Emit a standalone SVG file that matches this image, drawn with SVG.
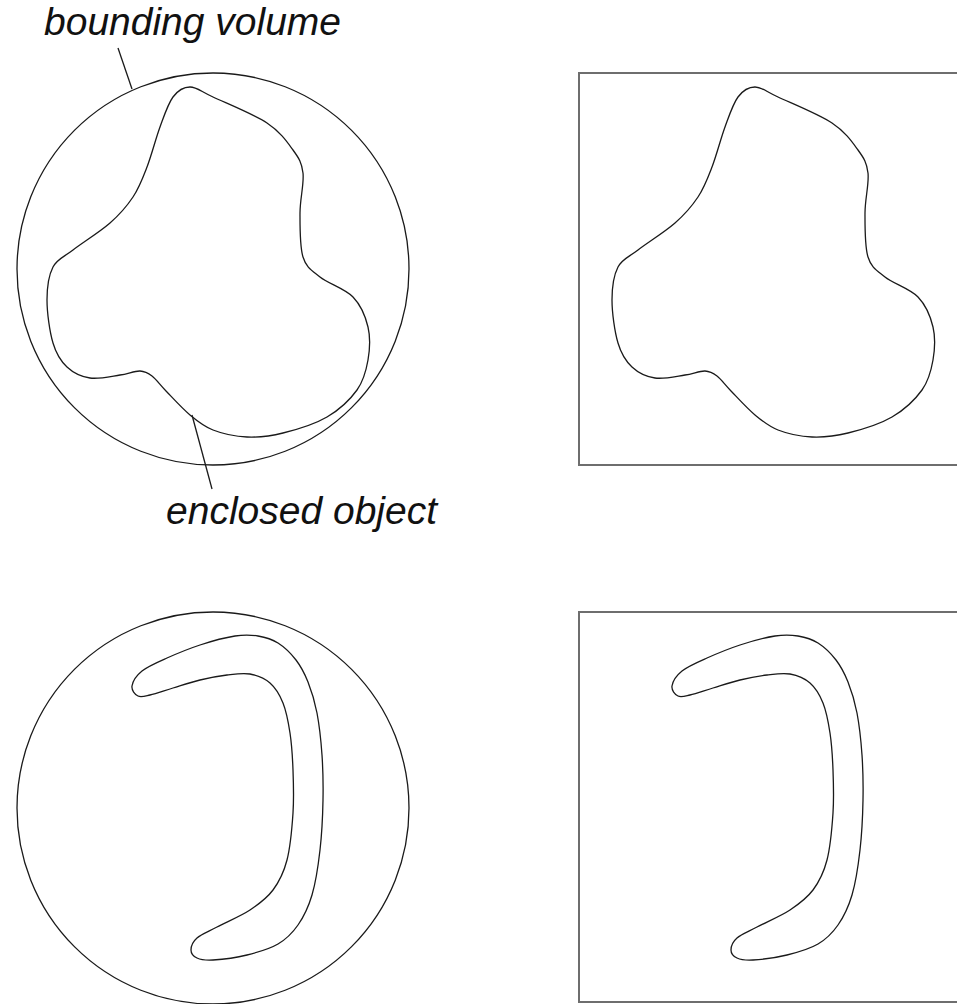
<svg xmlns="http://www.w3.org/2000/svg" xmlns:xlink="http://www.w3.org/1999/xlink" width="957" height="1004" viewBox="0 0 957 1004">
<style>
.obj{fill:none;stroke:#1a1a1a;stroke-width:1.3}
.box{fill:none;stroke:#6e6e6e;stroke-width:2}
.lead{fill:none;stroke:#1a1a1a;stroke-width:1.3}
.lbl{font-family:"Liberation Sans",Arial,sans-serif;font-style:italic;font-size:39px;fill:#111}
</style>
<defs>
<path id="blob" d="M190,87 C196.7,87 200.2,91 213,97 C225.8,103 253.7,114.2 267,123 C280.3,131.8 287,141.7 293,150 C299,158.3 301.8,162.5 303,173 C304.2,183.5 300,199 300,213 C300,227 299.7,246.3 303,257 C306.3,267.7 311.7,270.3 320,277 C328.3,283.7 345,288.7 353,297 C361,305.3 365.5,316.5 368,327 C370.5,337.5 369.8,349.5 368,360 C366.2,370.5 363.8,380.5 357,390 C350.2,399.5 339.3,409.8 327,417 C314.7,424.2 296.3,429.7 283,433 C269.7,436.3 258.7,437.5 247,437 C235.3,436.5 222.5,433.7 213,430 C203.5,426.3 197.8,421.5 190,415 C182.2,408.5 172.3,397.5 166,391 C159.7,384.5 156.3,379.3 152,376 C147.7,372.7 145.3,371.2 140,371 C134.7,370.8 128.3,373.8 120,375 C111.7,376.2 98.8,379.3 90,378 C81.2,376.7 73.2,372.8 67,367 C60.8,361.2 56.3,354.2 53,343 C49.7,331.8 47,312.7 47,300 C47,287.3 48.7,275.3 53,267 C57.3,258.7 63.5,257.3 73,250 C82.5,242.7 100,231.8 110,223 C120,214.2 126.8,206.3 133,197 C139.2,187.7 142.5,178.7 147,167 C151.5,155.3 155.7,138.7 160,127 C164.3,115.3 168,103.7 173,97 C178,90.3 183.3,87 190,87 Z"/>
<path id="hook" d="M132,686 C132.7,681.8 136.2,675.7 142,671 C147.8,666.3 157.3,662.3 167,658 C176.7,653.7 188.7,648.7 200,645 C211.3,641.3 225.3,637.5 235,636 C244.7,634.5 250.8,634.8 258,636 C265.2,637.2 271.7,639 278,643 C284.3,647 291,653.5 296,660 C301,666.5 304.5,673.2 308,682 C311.5,690.8 314.7,700.8 317,713 C319.3,725.2 321,740.5 322,755 C323,769.5 323.3,784.2 323,800 C322.7,815.8 321.8,834.2 320,850 C318.2,865.8 315.7,882.5 312,895 C308.3,907.5 303.7,916.8 298,925 C292.3,933.2 286.5,939 278,944 C269.5,949 257.8,952.3 247,955 C236.2,957.7 221.3,959.5 213,960 C204.7,960.5 200.7,959.7 197,958 C193.3,956.3 191,953.3 191,950 C191,946.7 192.7,941.8 197,938 C201.3,934.2 208.2,931.7 217,927 C225.8,922.3 240.7,916.2 250,910 C259.3,903.8 266.8,898.3 273,890 C279.2,881.7 283.7,872.8 287,860 C290.3,847.2 292,828 293,813 C294,798 293.5,783.3 293,770 C292.5,756.7 291.7,744.2 290,733 C288.3,721.8 286.3,711.3 283,703 C279.7,694.7 275.5,687.8 270,683 C264.5,678.2 257.2,675.3 250,674 C242.8,672.7 235.3,674 227,675 C218.7,676 209,677.8 200,680 C191,682.2 181.3,685.5 173,688 C164.7,690.5 155.8,693.7 150,695 C144.2,696.3 141,697.5 138,696 C135,694.5 131.3,690.2 132,686 Z"/>
</defs>
<rect width="957" height="1004" fill="#fff"/>
<g id="sphere-blob">
<circle class="obj" cx="213" cy="269" r="196"/>
<use xlink:href="#blob" class="obj"/>
</g>
<g id="box-blob">
<rect class="box" x="579" y="73" width="400" height="392"/>
<use xlink:href="#blob" class="obj" transform="translate(565,0)"/>
</g>
<g id="sphere-hook">
<circle class="obj" cx="213" cy="808" r="196"/>
<use xlink:href="#hook" class="obj"/>
</g>
<g id="box-hook">
<rect class="box" x="579" y="612" width="400" height="390"/>
<use xlink:href="#hook" class="obj" transform="translate(540,0)"/>
</g>
<g id="label-bounding">
<text class="lbl" x="44" y="35">bounding volume</text>
</g>
<g id="label-enclosed">
<text class="lbl" x="166" y="524">enclosed object</text>
</g>
<g id="connectors">
<line class="lead" x1="118" y1="48" x2="132" y2="89"/>
<line class="lead" x1="192" y1="415" x2="212" y2="489"/>
</g>
</svg>
